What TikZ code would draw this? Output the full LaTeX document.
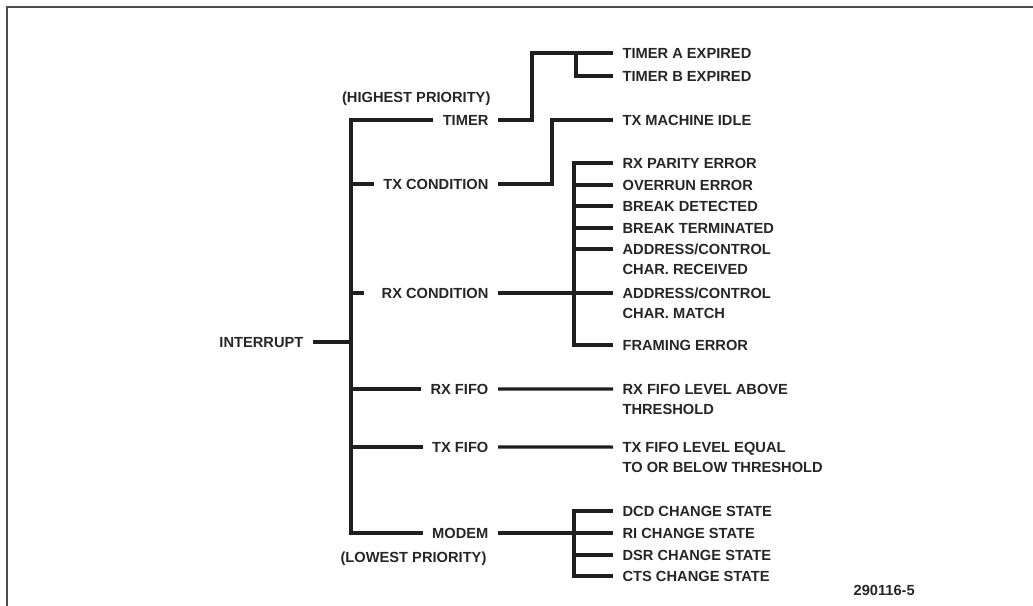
\documentclass[tikz,border=0pt]{standalone}
\usepackage{fontspec}
\setmainfont{Liberation Sans}
\begin{document}
\begin{tikzpicture}[x=0.75pt,y=-0.75pt,
  every node/.style={font=\fontsize{11}{15}\selectfont\bfseries, text=black!85, inner xsep=7pt, inner ysep=0pt},
  lbl/.style={text height=8pt, text depth=0pt},
  lbltwo/.style={align=left, anchor=north west},
  conn/.style={line width=2.3pt, draw=black!88, line join=miter},
  frame/.style={line width=1.4pt, draw=black!70}]
\useasboundingbox (0,0) rectangle (1033,606);
\draw[frame] (7,606) -- (7,7) -- (1033,7);

% root and first level
\node[lbl, anchor=east] (int) at (313,342) {INTERRUPT};
\node[lbl, anchor=east] (timer) at (498,120) {TIMER};
\node[lbl, anchor=east] (txc) at (498,184) {TX CONDITION};
\node[lbl, anchor=east] (rxc) at (498,293) {RX CONDITION};
\node[lbl, anchor=east] (rxf) at (498,389) {RX FIFO};
\node[lbl, anchor=east] (txf) at (498,447) {TX FIFO};
\node[lbl, anchor=east] (modem) at (498,533) {MODEM};
\node[lbl, anchor=east] (hi) at (500,97) {(HIGHEST PRIORITY)};
\node[lbl, anchor=east] (lo) at (496,557) {(LOWEST PRIORITY)};

% leaves
\node[lbl, anchor=west] (ta) at (613,53) {TIMER A EXPIRED};
\node[lbl, anchor=west] (tbx) at (613,76) {TIMER B EXPIRED};
\node[lbl, anchor=west] (idle) at (613,120) {TX MACHINE IDLE};
\node[lbl, anchor=west] (par) at (613,163) {RX PARITY ERROR};
\node[lbl, anchor=west] (ovr) at (613,185) {OVERRUN ERROR};
\node[lbl, anchor=west] (brkd) at (613,206) {BREAK DETECTED};
\node[lbl, anchor=west] (brkt) at (613,228) {BREAK TERMINATED};
\node[lbltwo] (addra) at (613,243.7) {ADDRESS/CONTROL\\CHAR. RECEIVED};
\node[lbltwo] (addrb) at (613,287.7) {ADDRESS/CONTROL\\CHAR. MATCH};
\node[lbl, anchor=west] (fram) at (613,345) {FRAMING ERROR};
\node[lbltwo] (rxfl) at (613,383.7) {RX FIFO LEVEL ABOVE\\THRESHOLD};
\node[lbltwo] (txfl) at (613,441.7) {TX FIFO LEVEL EQUAL\\TO OR BELOW THRESHOLD};
\node[lbl, anchor=west] (dcd) at (613,511) {DCD CHANGE STATE};
\node[lbl, anchor=west] (ri) at (613,533) {RI CHANGE STATE};
\node[lbl, anchor=west] (dsr) at (613,555) {DSR CHANGE STATE};
\node[lbl, anchor=west] (cts) at (613,576) {CTS CHANGE STATE};
\node[lbl, anchor=west] (fig) at (844,590) {290116-5};

% columns
\coordinate (xt) at (351,0);
\coordinate (xa) at (532,0);
\coordinate (xb) at (552,0);
\coordinate (xc) at (574,0);
\coordinate (xd) at (576,0);
\coordinate (addraw) at ([yshift=-4pt]addra.north west);
\coordinate (addrbw) at ([yshift=-4pt]addrb.north west);
\coordinate (rxflw) at ([yshift=-4pt]rxfl.north west);
\coordinate (txflw) at ([yshift=-4pt]txfl.north west);

% trunk
\draw[conn] (timer.west) -- (timer.west -| xt) -- (modem.west -| xt) -- (modem.west);
\draw[conn] (int.east) -- (int.east -| xt);
\draw[conn] (txc.west) -- (txc.west -| xt);
\draw[conn] ([xshift=-6pt]rxc.west) -- (rxc.west -| xt);
\draw[conn] (rxf.west) -- (rxf.west -| xt);
\draw[conn] (txf.west) -- (txf.west -| xt);

% timer
\draw[conn] (timer.east) -- (timer.east -| xa) -- (ta.west -| xa) -- (ta.west);
\draw[conn] (ta.west -| xd) -- (tbx.west -| xd) -- (tbx.west);
% tx condition
\draw[conn] (txc.east) -- (txc.east -| xb) -- (idle.west -| xb) -- (idle.west);
% rx condition
\draw[conn] (rxc.east) -- (rxc.east -| xc);
\draw[conn] (par.west) -- (par.west -| xc) -- (fram.west -| xc) -- (fram.west);
\draw[conn] (ovr.west) -- (ovr.west -| xc);
\draw[conn] (brkd.west) -- (brkd.west -| xc);
\draw[conn] (brkt.west) -- (brkt.west -| xc);
\draw[conn] (addraw) -- (addraw -| xc);
\draw[conn] (addrbw) -- (addrbw -| xc);
% fifos
\draw[conn] (rxf.east) -- (rxflw);
\draw[conn] (txf.east) -- (txflw);
% modem
\draw[conn] (modem.east) -- (modem.east -| xc);
\draw[conn] (dcd.west) -- (dcd.west -| xc) -- (cts.west -| xc) -- (cts.west);
\draw[conn] (ri.west) -- (ri.west -| xc);
\draw[conn] (dsr.west) -- (dsr.west -| xc);
\end{tikzpicture}
\end{document}
